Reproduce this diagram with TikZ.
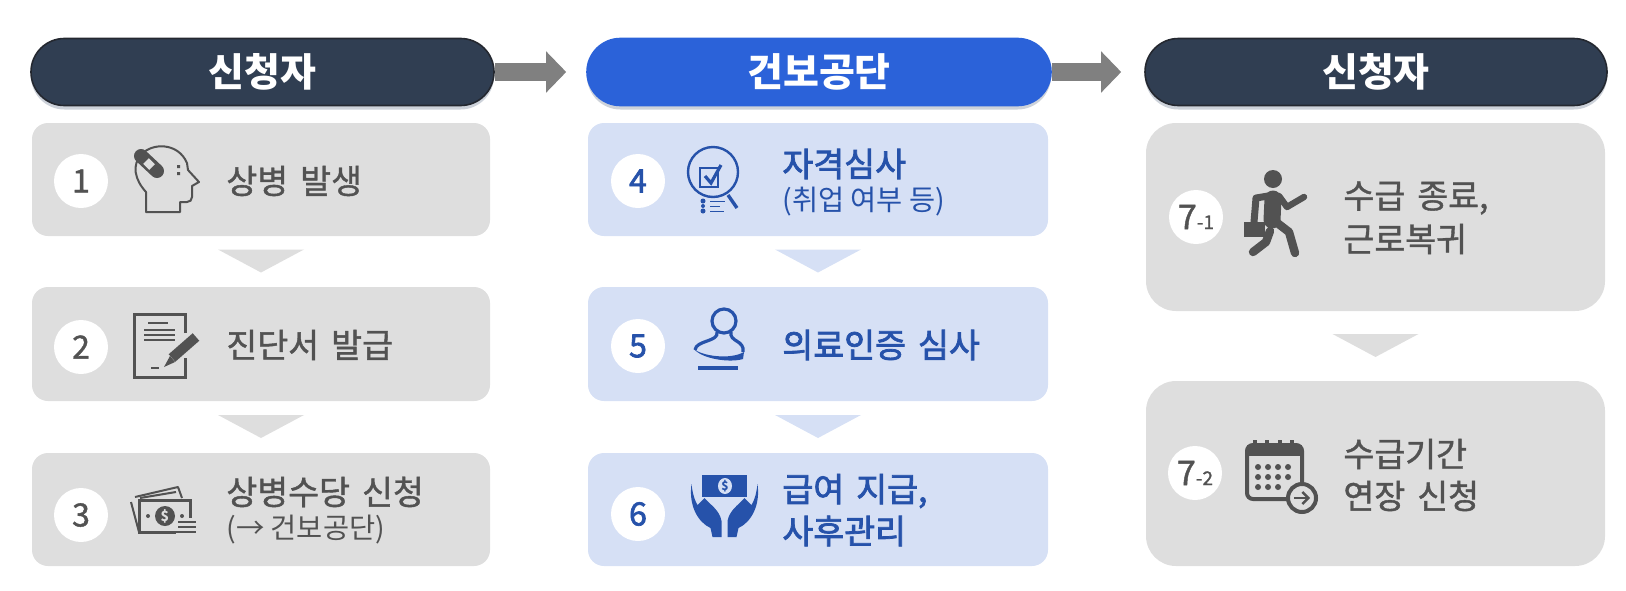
\documentclass[tikz,border=0pt]{standalone}
\usepackage{fontspec}
\setmainfont{Noto Sans CJK KR}
\newfontfamily\medfont[FakeBold=1.2,WordSpace=1.6]{Noto Sans CJK KR}
\newfontfamily\heavyfont[FakeBold=2.2,WordSpace=1.6]{Noto Sans CJK KR}
\usetikzlibrary{arrows.meta,calc,shadows}
\definecolor{HdrDark}{RGB}{48,62,82}
\definecolor{HdrEdge}{RGB}{36,40,48}
\definecolor{HdrBlue}{RGB}{43,98,217}
\definecolor{HdrShadow}{RGB}{205,210,218}
\definecolor{BoxGray}{RGB}{222,222,222}
\definecolor{BoxBlue}{RGB}{214,224,245}
\definecolor{TxtGray}{RGB}{82,82,82}
\definecolor{TxtBlue}{RGB}{38,82,170}
\definecolor{FlowGray}{RGB}{128,128,128}
\tikzset{
  hdrBox/.style={rounded corners=16.7pt,minimum height=33.5pt,text=white,line width=.8pt,
    general shadow={shadow yshift=-2pt,fill=HdrShadow},
    font=\fontsize{19.5}{22}\selectfont\bfseries},
  itemBox/.style={rounded corners=8pt,inner sep=0pt},
  numDot/.style={circle,fill=white,minimum size=27pt,inner sep=0pt,font=\fontsize{16}{18}\selectfont\medfont},
  numBlue/.style={numDot,text=TxtBlue,font=\fontsize{16}{18}\selectfont\heavyfont},
  itemTxt/.style={anchor=west,inner sep=0pt,font=\fontsize{16.8}{19}\selectfont\medfont},
  itemBlue/.style={itemTxt,text=TxtBlue,font=\fontsize{16.8}{19}\selectfont\heavyfont},
  subTxt/.style={anchor=west,inner sep=0pt,font=\fontsize{14.2}{16}\selectfont},
  flowLine/.style={draw=FlowGray,line width=9pt,shorten >=10pt,-{Triangle[length=10pt,width=20pt]}}
}

\begin{document}
\begin{tikzpicture}[x=.5pt,y=-.5pt]
\useasboundingbox (0,0) rectangle (1626,590);

% Column headers.
\node[hdrBox,fill=HdrDark,draw=HdrEdge,minimum width=231.5pt] (hdrA) at (262.5,72) {신청자};
\node[hdrBox,fill=HdrBlue,draw=HdrBlue,minimum width=232pt] (hdrB) at (819,72) {건보공단};
\node[hdrBox,fill=HdrDark,draw=HdrEdge,minimum width=231pt] (hdrC) at (1376,72) {신청자};
\draw[flowLine] (hdrA.east) -- (hdrB.west);
\draw[flowLine,shorten >=11.5pt] (hdrB.east) -- (hdrC.west);

% Boxes.
\node[itemBox,fill=BoxGray,minimum width=229pt,minimum height=56.5pt] (boxA) at (261,179.5) {};
\node[itemBox,fill=BoxGray,minimum width=229pt,minimum height=57pt] (boxB) at (261,344) {};
\node[itemBox,fill=BoxGray,minimum width=229pt,minimum height=56.5pt] (boxC) at (261,509.5) {};
\node[itemBox,fill=BoxBlue,minimum width=230pt,minimum height=56.5pt] (boxD) at (818,179.5) {};
\node[itemBox,fill=BoxBlue,minimum width=230pt,minimum height=57pt] (boxE) at (818,344) {};
\node[itemBox,fill=BoxBlue,minimum width=230pt,minimum height=56.5pt] (boxF) at (818,509.5) {};
\node[itemBox,rounded corners=15pt,fill=BoxGray,minimum width=229.5pt,minimum height=94pt] (boxG) at (1375.5,217) {};
\node[itemBox,rounded corners=15pt,fill=BoxGray,minimum width=229.5pt,minimum height=92.5pt] (boxH) at (1375.5,473.5) {};

% Triangles between the boxes.
\foreach \from/\to/\clr in {boxA/boxB/BoxGray,boxB/boxC/BoxGray,boxD/boxE/BoxBlue,boxE/boxF/BoxBlue,boxG/boxH/BoxGray}
  \fill[\clr] ($(\from.south)!.5!(\to.north)+(-43,-12)$) -- ++(86,0) -- ++(-43,23) -- cycle;

% Numbers.
\node[numDot,text=TxtGray] (numA) at (81,181) {1};
\node[numDot,text=TxtGray] (numB) at (81,347) {2};
\node[numDot,text=TxtGray] (numC) at (81,515) {3};
\node[numBlue] (numD) at (638,181) {4};
\node[numBlue] (numE) at (638,346) {5};
\node[numBlue] (numF) at (638,514) {6};
\node[numDot,text=TxtGray] (numG) at (1196,217) {{\fontsize{17}{20}\selectfont 7}{\fontsize{9.5}{12}\selectfont -1}};
\node[numDot,text=TxtGray] (numH) at (1195,473) {{\fontsize{17}{20}\selectfont 7}{\fontsize{9.5}{12}\selectfont -2}};

% Texts.
\node[itemTxt,text=TxtGray] (txtA) at (226,181) {상병 발생};
\node[itemTxt,text=TxtGray] (txtB) at (226,345) {진단서 발급};
\node[itemTxt,text=TxtGray] (txtC) at (226,492) {상병수당 신청};
\node[subTxt,text=TxtGray] (subC) at (226,530) {(→ 건보공단)};
\node[itemBlue] (txtD) at (782,164) {자격심사};
\node[subTxt,text=TxtBlue] (subD) at (782,202) {(취업 여부 등)};
\node[itemBlue] (txtE) at (782,345) {의료인증 심사};
\node[itemBlue] (txtF) at (782,491) {급여 지급,};
\node[itemBlue] (subF) at (782,531) {사후관리};
\node[itemTxt,text=TxtGray] (txtG) at (1343,198) {수급 종료,};
\node[itemTxt,text=TxtGray] (subG) at (1343,239) {근로복귀};
\node[itemTxt,text=TxtGray] (txtH) at (1343,454) {수급기간};
\node[itemTxt,text=TxtGray] (subH) at (1343,496) {연장 신청};

% Icon: head with plaster.
\draw[TxtGray,line width=1pt,line join=round] (146,212) -- (146,192) .. controls (135,180) and (131,165) .. (142,154)
  .. controls (152,143) and (178,142) .. (187,163) -- (188,170) -- (199,182) -- (192,186) -- (192,197)
  .. controls (192,200) and (190,202) .. (187,202) -- (180,202) -- (180,212) -- cycle;
\draw[TxtGray,line width=7pt,line cap=round] (141,156) -- (157,171);
\draw[BoxGray,line width=4pt] (146,161) -- (152,167);
\fill[TxtGray] (177,165) rectangle (180,168) (177,172) rectangle (180,175);

% Icon: document and pen.
\draw[TxtGray,line width=1.5pt] (185,333) -- (185,314) -- (134,314) -- (134,377) -- (185,377) -- (185,358);
\draw[TxtGray,line width=1pt] (148,323) -- (168,323) (144,330) -- (175,330) (144,335) -- (175,335) (144,340) -- (175,340) (151,368) -- (159,368);
\draw[TxtGray,line width=5pt] (196,337) -- (172,358);
\fill[TxtGray] (170,356) -- (175,362) -- (164,367) -- cycle;

% Icon: banknotes.
\draw[TxtGray,line width=1pt,line join=round] (131,502) -- (139,532) (135,497) -- (178,487) -- (182,498);
\draw[TxtGray,line width=1pt] (140,498) -- (176,492);
\draw[TxtGray,line width=1.5pt] (139,500) rectangle (190,532);
\fill[BoxGray] (176,518) rectangle (198,536);
\draw[TxtGray,line width=1.2pt] (178,522) -- (196,522) (178,527) -- (196,527) (178,532) -- (196,532) (139,532) -- (178,532) (190,500) -- (190,516);
\fill[TxtGray] (165,516) circle (10);
\node[inner sep=0pt,text=BoxGray,font=\fontsize{7}{8}\selectfont\bfseries] (dollarC) at (165,516) {\$};
\fill[TxtGray] (148,516) circle (2) (182,516) circle (2);

% Icon: magnifier and checklist.
\draw[TxtBlue,line width=1.2pt] (713,172) circle (25);
\draw[TxtBlue,line width=1.2pt] (700,168) rectangle (718,187);
\draw[TxtBlue,line width=1.6pt] (705,176) -- (711,183) -- (721,165);
\draw[TxtBlue,line width=1.7pt] (728,195) -- (737,208);
\fill[TxtBlue] (703,201) circle (2.5) (703,206) circle (2) (703,211) circle (2.5);
\draw[TxtBlue,line width=.5pt] (710,201) -- (725,201) (710,206) -- (720,206) (710,211) -- (724,211);

% Icon: stamp.
\draw[TxtBlue,line width=1.6pt] (724,321) circle (12);
\draw[TxtBlue,line width=1.6pt] (717,332) .. controls (719,342) and (696,340) .. (695,350) (731,332) .. controls (729,342) and (745,340) .. (743,352);
\fill[TxtBlue] (694,349) .. controls (702,356) and (730,360) .. (744,352) -- (743,359) .. controls (730,363) and (702,359) .. cycle;
\draw[TxtBlue,line width=2pt] (698,368) -- (738,368);

% Icon: hands holding banknote.
\fill[TxtBlue] (702,475) rectangle (747,497);
\fill[BoxBlue] (725,486) ellipse (7 and 8);
\node[inner sep=0pt,text=TxtBlue,font=\fontsize{6}{7}\selectfont\bfseries] (dollarF) at (725,486) {\$};
\foreach \s in {-1,1}
  \fill[TxtBlue,shift={(724.5,0)},xscale=\s] (33,484) .. controls (36,505) and (27,522) .. (14,528) -- (12,537) -- (3,537) -- (3,521)
    .. controls (5,510) and (14,505) .. (20,498) -- (27,505) .. controls (31,498) and (32,492) .. cycle;

% Icon: running person with briefcase.
\fill[TxtGray] (1273,179) circle (9);
\draw[TxtGray,line width=8.5pt,line cap=round] (1273,199) -- (1272,220);
\draw[TxtGray,line width=3.5pt,line join=round,line cap=round] (1268,196) -- (1256,198) -- (1254,222);
\draw[TxtGray,line width=3.2pt,line join=round,line cap=round] (1279,196) -- (1287,207) -- (1304,197);
\draw[TxtGray,line width=4.2pt,line join=round,line cap=round] (1276,222) -- (1289,232) -- (1295,253);
\draw[TxtGray,line width=4.2pt,line join=round,line cap=round] (1270,231) -- (1266,242) -- (1253,252);
\fill[TxtGray] (1244,222) rectangle (1265,237);

% Icon: calendar with arrow.
\draw[TxtGray,line width=2pt,rounded corners=3pt] (1247,445) rectangle (1302,499);
\fill[TxtGray] (1247,445) rectangle (1302,456);
\foreach \px in {1255,1267,1280,1292}
  \draw[TxtGray,line width=2pt] (\px,440) -- (\px,451);
\foreach \px in {1258,1268,1278,1288}
  \foreach \py in {467,477}
    \fill[TxtGray] (\px,\py) circle (3);
\foreach \px in {1258,1268,1278}
  \fill[TxtGray] (\px,487) circle (3);
\draw[TxtGray,fill=BoxGray,line width=2pt] (1302,498) circle (14);
\draw[TxtGray,line width=1.2pt,-{Straight Barb[length=3pt,width=6pt]}] (1294,498) -- (1310,498);
\end{tikzpicture}
\end{document}
